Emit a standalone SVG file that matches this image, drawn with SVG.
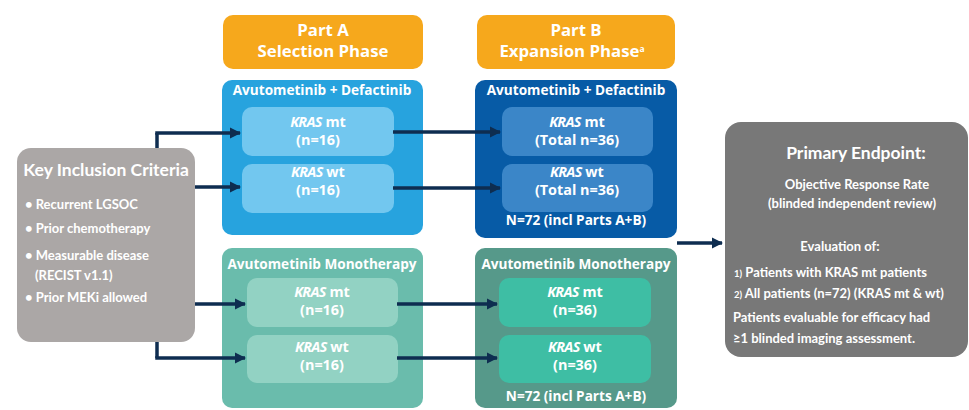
<svg xmlns="http://www.w3.org/2000/svg" width="969" height="410" viewBox="0 0 969 410">
<defs>
<marker id="ah" viewBox="0 0 10 10" refX="9" refY="5" markerWidth="3.2" markerHeight="3.6" orient="auto" markerUnits="strokeWidth">
<path d="M0,0 L10,5 L0,10 Z" fill="#0E2D50"/>
</marker>
<style>
.hd{font-family:"Open Sans",sans-serif;font-weight:bold;font-size:16.8px;fill:#fff;text-anchor:middle}
.ti{font-family:"Open Sans",sans-serif;font-weight:bold;font-size:13.6px;fill:#fff;text-anchor:middle}
.in{font-family:"Open Sans",sans-serif;font-weight:bold;font-size:14.4px;fill:#fff;text-anchor:middle}
.it{font-style:italic;letter-spacing:-0.7px}
.gk{font-family:"Lato","Open Sans",sans-serif;font-weight:bold;fill:#fff}
.ln{fill:none;stroke:#0E2D50;stroke-width:3.5}
</style>
</defs>

<g id="partA-header">
<rect x="223" y="15" width="200" height="54" rx="10" fill="#F6A81C"/>
<text class="hd" x="323" y="36">Part A</text>
<text class="hd" x="323" y="57">Selection Phase</text>
</g>

<g id="partB-header">
<rect x="477" y="15" width="198" height="54" rx="10" fill="#F6A81C"/>
<text class="hd" x="576" y="36">Part B</text>
<text class="hd" x="572" y="57">Expansion Phase<tspan font-size="8.5" dy="-5">a</tspan></text>
</g>

<g id="partA-combo">
<rect x="222" y="80" width="201" height="155" rx="10" fill="#27A3DE"/>
<text class="ti" x="322" y="95">Avutometinib + Defactinib</text>
</g>
<g id="partA-combo-mt">
<rect x="242" y="107" width="152" height="49" rx="10" fill="#72C7EF"/>
<text class="in" x="318" y="127"><tspan class="it">KRAS</tspan> mt</text>
<text class="in" x="318" y="145">(n=16)</text>
</g>
<g id="partA-combo-wt">
<rect x="242" y="164" width="152" height="49" rx="10" fill="#72C7EF"/>
<text class="in" x="318" y="177"><tspan class="it">KRAS</tspan> wt</text>
<text class="in" x="318" y="195">(n=16)</text>
</g>

<g id="partB-combo">
<rect x="475" y="80" width="202" height="158" rx="10" fill="#075BA6"/>
<text class="ti" x="576" y="95">Avutometinib + Defactinib</text>
<text class="ti" x="576" y="225">N=72 (incl Parts A+B)</text>
</g>
<g id="partB-combo-mt">
<rect x="502" y="107" width="151" height="49" rx="10" fill="#3B86C8"/>
<text class="in" x="577" y="127"><tspan class="it">KRAS</tspan> mt</text>
<text class="in" x="577" y="145">(Total n=36)</text>
</g>
<g id="partB-combo-wt">
<rect x="502" y="164" width="151" height="48" rx="10" fill="#3B86C8"/>
<text class="in" x="577" y="177"><tspan class="it">KRAS</tspan> wt</text>
<text class="in" x="577" y="195">(Total n=36)</text>
</g>

<g id="partA-mono">
<rect x="222" y="248" width="201" height="160" rx="10" fill="#6ABCAC"/>
<text class="ti" x="322" y="269">Avutometinib Monotherapy</text>
</g>
<g id="partA-mono-mt">
<rect x="247" y="278" width="151" height="49" rx="10" fill="#92D2C3"/>
<text class="in" x="322" y="297"><tspan class="it">KRAS</tspan> mt</text>
<text class="in" x="322" y="315">(n=16)</text>
</g>
<g id="partA-mono-wt">
<rect x="247" y="335" width="151" height="48" rx="10" fill="#92D2C3"/>
<text class="in" x="322" y="352"><tspan class="it">KRAS</tspan> wt</text>
<text class="in" x="322" y="370">(n=16)</text>
</g>

<g id="partB-mono">
<rect x="475" y="248" width="202" height="160" rx="10" fill="#56998A"/>
<text class="ti" x="576" y="269">Avutometinib Monotherapy</text>
<text class="ti" x="576" y="401">N=72 (incl Parts A+B)</text>
</g>
<g id="partB-mono-mt">
<rect x="499" y="278" width="152" height="49" rx="10" fill="#3EBEA4"/>
<text class="in" x="575" y="297"><tspan class="it">KRAS</tspan> mt</text>
<text class="in" x="575" y="315">(n=36)</text>
</g>
<g id="partB-mono-wt">
<rect x="499" y="335" width="152" height="48" rx="10" fill="#3EBEA4"/>
<text class="in" x="575" y="352"><tspan class="it">KRAS</tspan> wt</text>
<text class="in" x="575" y="370">(n=36)</text>
</g>

<g id="connectors">
<path class="ln" d="M157,133 V358"/>
<path class="ln" d="M155.25,133 H240" marker-end="url(#ah)"/>
<path class="ln" d="M195,187 H240" marker-end="url(#ah)"/>
<path class="ln" d="M195,304 H245" marker-end="url(#ah)"/>
<path class="ln" d="M155.25,358 H245" marker-end="url(#ah)"/>
<path class="ln" d="M393,132 H500" marker-end="url(#ah)"/>
<path class="ln" d="M393,188 H500" marker-end="url(#ah)"/>
<path class="ln" d="M397,304 H497" marker-end="url(#ah)"/>
<path class="ln" d="M397,358 H497" marker-end="url(#ah)"/>
<path class="ln" d="M677,243 H722" marker-end="url(#ah)"/>
</g>

<g id="inclusion">
<rect x="17" y="148" width="178" height="194" rx="14" fill="#ABA7A6"/>
<text class="gk" x="106" y="176" font-size="17.5" text-anchor="middle">Key Inclusion Criteria</text>
<g font-size="13">
<text class="gk" x="25" y="209">•  Recurrent  LGSOC</text>
<text class="gk" x="25" y="233">•  Prior chemotherapy</text>
<text class="gk" x="25" y="260">•  Measurable  disease</text>
<text class="gk" x="35" y="280">(RECIST  v1.1)</text>
<text class="gk" x="25" y="302">•  Prior MEKi allowed</text>
</g>
</g>

<g id="endpoint">
<rect x="725" y="122" width="243" height="235" rx="16" fill="#787878"/>
<text class="gk" x="856" y="159" font-size="17.5" text-anchor="middle">Primary Endpoint:</text>
<text class="gk" x="857" y="189" font-size="13" text-anchor="middle">Objective  Response  Rate</text>
<text class="gk" x="852" y="208" font-size="13" text-anchor="middle">(blinded  independent  review)</text>
<text class="gk" x="840" y="251" font-size="13" text-anchor="middle">Evaluation  of:</text>
<text class="gk" x="734" y="277" font-size="13"><tspan font-size="9.5">1)</tspan>  Patients with KRAS mt patients</text>
<text class="gk" x="734" y="298" font-size="13"><tspan font-size="9.5">2)</tspan>  All patients (n=72) (KRAS mt &amp; wt)</text>
<text class="gk" x="733" y="322" font-size="13">Patients evaluable for efficacy had</text>
<text class="gk" x="733" y="343" font-size="13">≥1 blinded imaging assessment.</text>
</g>
</svg>
